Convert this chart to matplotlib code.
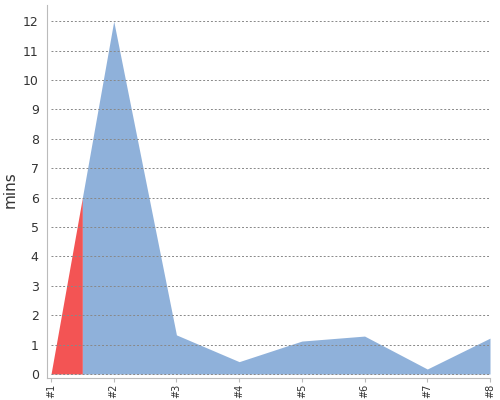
import matplotlib
matplotlib.use("Agg")
import matplotlib.pyplot as plt
import numpy as np

categories = ["#1", "#2", "#3", "#4", "#5", "#6", "#7", "#8"]
values = [0, 12, 1.33, 0.42, 1.12, 1.29, 0.17, 1.22]
red_zone_end = 0.5  # category-index where the red zone ends
y_ticks = list(range(0, 13))

fig = plt.figure(figsize=(5, 4), dpi=100)
ax = fig.add_axes([0.094, 0.055, 0.886, 0.9325])

x = np.arange(len(categories))
v = np.array(values, dtype=float)
ysplit = np.interp(red_zone_end, x, v)

xr = np.concatenate([x[x < red_zone_end], [red_zone_end]])
yr = np.concatenate([v[x < red_zone_end], [ysplit]])
xb = np.concatenate([[red_zone_end], x[x > red_zone_end]])
yb = np.concatenate([[ysplit], v[x > red_zone_end]])

ax.fill_between(xr, 0, yr, color="#F35454", linewidth=0, zorder=2)
ax.fill_between(xb, 0, yb, color="#8FB1DA", linewidth=0, zorder=2)

for t in y_ticks:
    ax.plot([0, len(categories) - 1], [t, t], color="#888888", linestyle=(0, (2, 2)),
            linewidth=0.7, zorder=3)

ax.set_xlim(-0.064, len(categories) - 1)
ax.set_ylim(-0.136, 12.55)
ax.set_xticks(x)
ax.set_xticklabels(categories, rotation=90, fontsize=7, color="#333333")
ax.set_yticks(y_ticks)
ax.set_yticklabels([str(t) for t in y_ticks], fontsize=9, color="#333333")
ax.tick_params(axis="y", length=0, pad=6)
ax.tick_params(axis="x", length=3, color="#bbbbbb", pad=1)
for s in ["top", "right"]:
    ax.spines[s].set_visible(False)
for s in ["left", "bottom"]:
    ax.spines[s].set_color("#bbbbbb")
ax.set_ylabel("mins", fontsize=11, color="#333333")
ax.yaxis.set_label_coords(-0.066, 0.504)

fig.savefig("out.png", dpi=100)
